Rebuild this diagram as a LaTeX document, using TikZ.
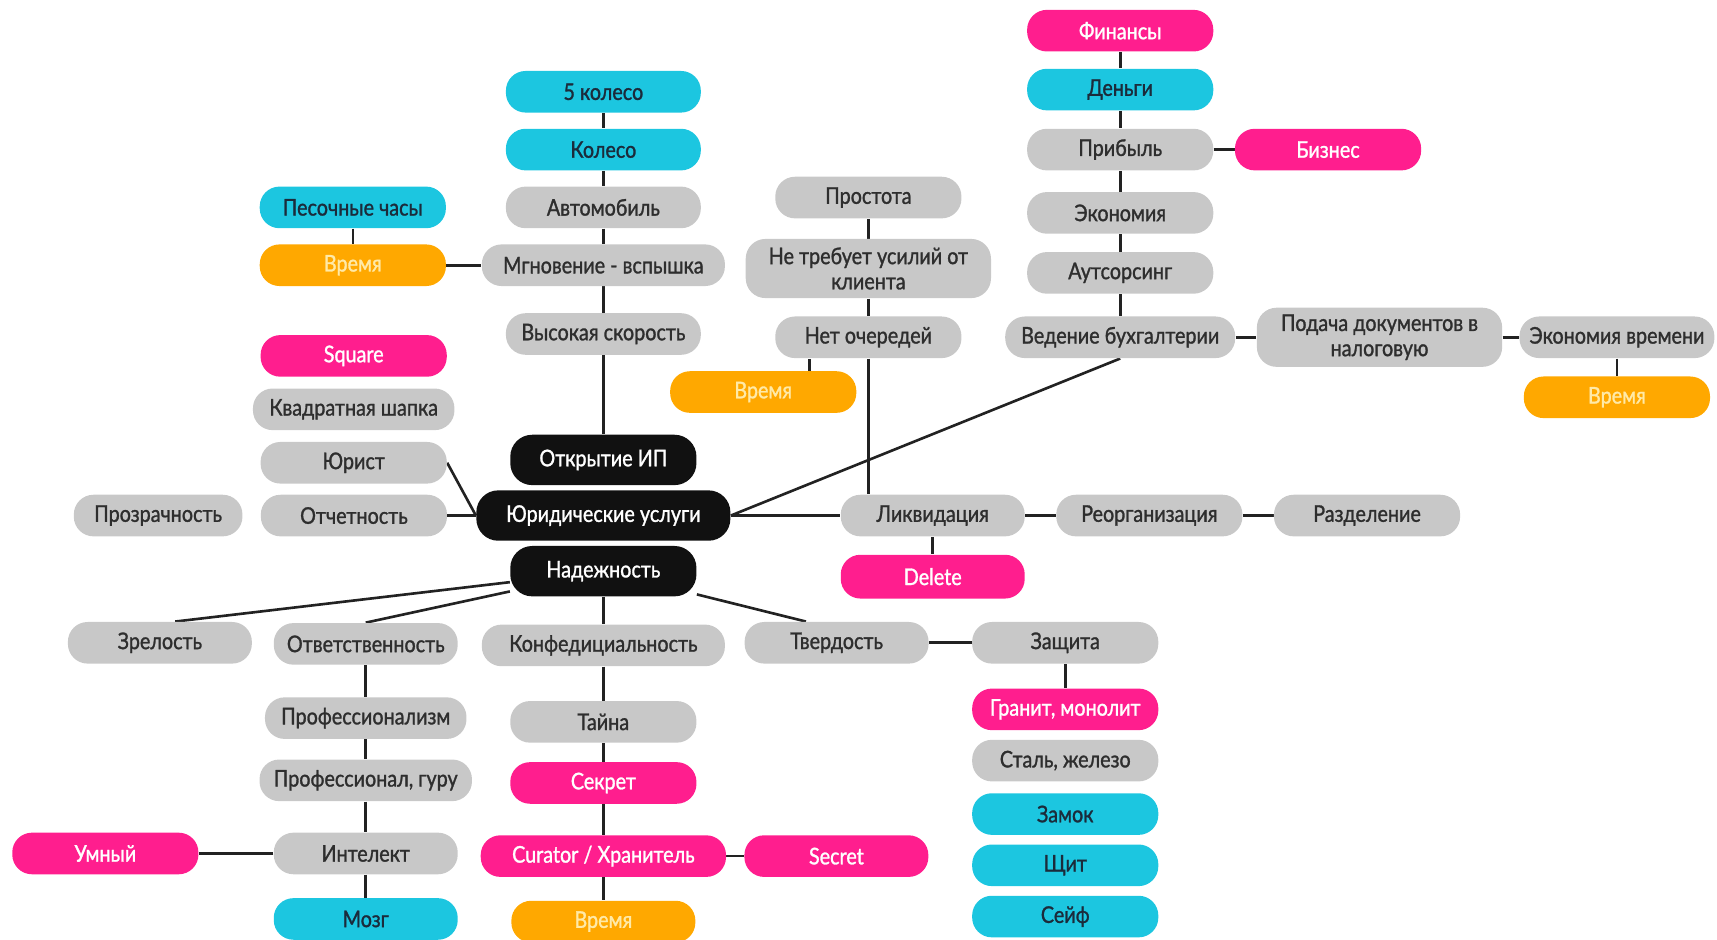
\documentclass[tikz,border=0pt]{standalone}
\usepackage{fontspec}
\setmainfont{Lato}[FakeStretch=0.86, FakeBold=1.2]
\usetikzlibrary{backgrounds, calc, positioning}
\definecolor{mmgrayfill}{HTML}{C8C8C8}
\definecolor{mmgraytext}{HTML}{2E2E2E}
\definecolor{mmpinkfill}{HTML}{FF1E8E}
\definecolor{mmcyanfill}{HTML}{1CC6E0}
\definecolor{mmcyantext}{HTML}{1B2B3B}
\definecolor{mmorangefill}{HTML}{FFA800}
\definecolor{mmorangetext}{HTML}{FFEAA8}
\definecolor{mmcorefill}{HTML}{111111}
\definecolor{mmline}{HTML}{222222}
\tikzset{
  mmbox/.style={rectangle, rounded corners=9pt, minimum width=85pt, minimum height=19pt, inner sep=2pt, font=\fontsize{10.5}{11.5}\selectfont, align=center},
  mmgray/.style={mmbox, fill=mmgrayfill, text=mmgraytext},
  mmpink/.style={mmbox, fill=mmpinkfill, text=white},
  mmcyan/.style={mmbox, fill=mmcyanfill, text=mmcyantext},
  mmorange/.style={mmbox, fill=mmorangefill, text=mmorangetext},
  mmcore/.style={mmbox, fill=mmcorefill, text=white, minimum height=23pt, rounded corners=10pt},
  mmlink/.style={draw=mmline, line width=1.2pt},
}
\begin{document}
\begin{tikzpicture}[x=0.5pt, y=-0.5pt]
  \useasboundingbox (0,0) rectangle (1568,858);

  % Core of the map.
  \node[mmcore] (open) at (551,420) {Открытие ИП};
  \node[mmcore, minimum width=116pt, below=2pt of open] (legal) {Юридические услуги};
  \node[mmcore, below=2pt of legal] (reliab) {Надежность};

  % Speed column above the core.
  \node[mmgray, minimum width=89pt] (speed) at (551,305) {Высокая скорость};
  \node[mmgray, minimum width=111pt, above=12pt of speed] (flash) {Мгновение - вспышка};
  \node[mmgray, minimum width=89pt, above=7pt of flash] (car) {Автомобиль};
  \node[mmcyan, minimum width=89pt, above=7pt of car] (wheel) {Колесо};
  \node[mmcyan, minimum width=89pt, above=7pt of wheel] (wheelfive) {5 колесо};
  \node[mmorange, left=16pt of flash] (timeflash) {Время};
  \node[mmcyan, above=7pt of timeflash] (hourglass) {Песочные часы};

  % Left side.
  \node[mmpink] (square) at (323,325) {Square};
  \node[mmgray, minimum width=92pt, below=5pt of square] (cap) {Квадратная шапка};
  \node[mmgray, below=5pt of cap] (lawyer) {Юрист};
  \node[mmgray, left=13pt of legal] (report) {Отчетность};
  \node[mmgray, minimum width=77pt, left=8pt of report] (transp) {Прозрачность};

  % Simplicity column.
  \node[mmgray] (queue) at (793,308) {Нет очередей};
  \node[mmgray, minimum width=112pt, minimum height=27pt, above=8pt of queue] (noeffort) {Не требует усилий от\\клиента};
  \node[mmgray, above=9pt of noeffort] (simple) {Простота};
  \node[mmorange] (timequeue) at (697,358) {Время};

  % Finance column.
  \node[mmgray, minimum width=105pt] (acct) at (1023,308) {Ведение бухгалтерии};
  \node[mmgray, above=10pt of acct] (outsource) {Аутсорсинг};
  \node[mmgray, above=8pt of outsource] (econ) {Экономия};
  \node[mmgray, above=9.5pt of econ] (profit) {Прибыль};
  \node[mmcyan, above=8pt of profit] (money) {Деньги};
  \node[mmpink, above=7.5pt of money] (finance) {Финансы};
  \node[mmpink, right=9.5pt of profit] (business) {Бизнес};
  \node[mmgray, minimum width=112pt, minimum height=27pt, right=9.5pt of acct] (filing) {Подача документов в\\налоговую};
  \node[mmgray, minimum width=89pt, right=7.5pt of filing] (timesave) {Экономия времени};
  \node[mmorange, below=8pt of timesave] (timesaveb) {Время};

  % Liquidation row.
  \node[mmgray, minimum width=84pt, right=50pt of legal] (liquid) {Ликвидация};
  \node[mmgray, right=14pt of liquid] (reorg) {Реорганизация};
  \node[mmgray, right=14pt of reorg] (split) {Разделение};
  \node[mmpink, minimum width=84pt, minimum height=20pt, below=8pt of liquid] (delete) {Delete};

  % Reliability row.
  \node[mmgray, minimum width=84pt] (mature) at (146,587) {Зрелость};
  \node[mmgray, minimum width=84pt] (resp) at (334,588) {Ответственность};
  \node[mmgray, minimum width=111pt, below=12.5pt of reliab] (conf) {Конфедициальность};
  \node[mmgray, minimum width=84pt] (hard) at (764,587) {Твердость};
  \node[mmgray, right=19.5pt of hard] (protect) {Защита};

  % Responsibility column.
  \node[mmgray, minimum width=92pt, below=14.5pt of resp] (prof) {Профессионализм};
  \node[mmgray, minimum width=97pt, below=9pt of prof] (guru) {Профессионал, гуру};
  \node[mmgray, minimum width=84pt, below=14pt of guru] (intel) {Интелект};
  \node[mmcyan, minimum width=84pt, below=10.5pt of intel] (brain) {Мозг};
  \node[mmpink, left=34pt of intel] (smart) {Умный};

  % Confidentiality column.
  \node[mmgray, below=15.5pt of conf] (mystery) {Тайна};
  \node[mmpink, below=8.5pt of mystery] (secretru) {Секрет};
  \node[mmpink, minimum width=112pt, below=14pt of secretru] (curator) {Curator / Хранитель};
  \node[mmorange, minimum width=84pt, below=10.5pt of curator] (timecur) {Время};
  \node[mmpink, minimum width=84pt, right=8pt of curator] (secreten) {Secret};

  % Protection column.
  \node[mmpink, below=11pt of protect] (granite) {Гранит, монолит};
  \node[mmgray, below=4pt of granite] (steel) {Сталь, железо};
  \node[mmcyan, below=5pt of steel] (lock) {Замок};
  \node[mmcyan, below=4pt of lock] (shield) {Щит};
  \node[mmcyan, below=4pt of shield] (safe) {Сейф};

  % Links (behind the boxes).
  \begin{scope}[on background layer]
    \path[mmlink]
      (wheelfive) edge (wheel)
      (wheel) edge (car)
      (car) edge (flash)
      (flash) edge (speed)
      (speed) edge (open)
      (hourglass) edge (timeflash)
      (timeflash) edge (flash)

      (lawyer.east) edge (legal.west)
      (report) edge (legal)

      (simple) edge (noeffort)
      (noeffort) edge (queue)
      (queue.south) edge (queue.south |- liquid.north)
      ([xshift=21pt]timequeue.north) edge ([xshift=21pt]timequeue.north |- queue.south)

      (finance) edge (money)
      (money) edge (profit)
      (profit) edge (econ)
      (econ) edge (outsource)
      (outsource) edge (acct)
      (profit) edge (business)
      (acct) edge (filing)
      (filing) edge (timesave)
      (timesave) edge (timesaveb)
      (acct.south) edge (legal.east)

      (legal) edge (liquid)
      (liquid) edge (reorg)
      (reorg) edge (split)
      (liquid) edge (delete)

      (reliab) edge ([xshift=7pt]mature.north)
      (reliab) edge (resp.north)
      (reliab) edge (conf)
      (reliab) edge ([xshift=-14pt]hard.north)
      (hard) edge (protect)
      (protect) edge (granite)

      (resp) edge (prof)
      (prof) edge (guru)
      (guru) edge (intel)
      (intel) edge (brain)
      (intel) edge (smart)

      (conf) edge (mystery)
      (mystery) edge (secretru)
      (secretru) edge (curator)
      (curator) edge (timecur)
      (curator) edge (secreten);
  \end{scope}
\end{tikzpicture}
\end{document}
